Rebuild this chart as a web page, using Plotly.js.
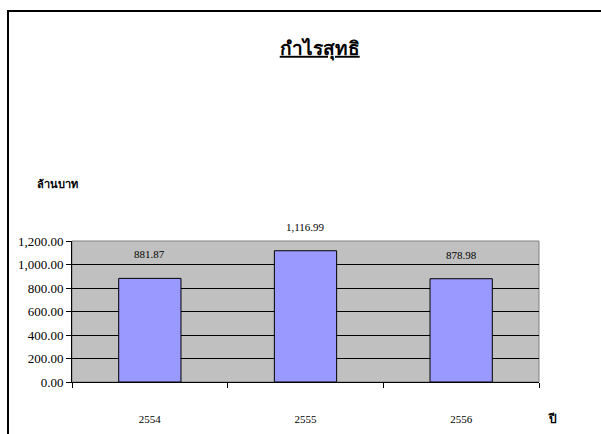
<!DOCTYPE html>
<html>
<head>
<meta charset="utf-8">
<script src="https://cdn.plot.ly/plotly-3.0.1.min.js"></script>
<style>
  html, body { margin: 0; padding: 0; background: #fff; }
  #wrap { position: relative; width: 601px; height: 434px; overflow: hidden; }
  #frame { position: absolute; left: 7px; top: 10px; width: 700px; height: 500px;
           border-left: 2px solid #000; border-top: 2px solid #000; pointer-events: none; }
  #chart { position: absolute; left: 0; top: 0; width: 601px; height: 434px; }
</style>
</head>
<body>
<div id="wrap">
  <div id="chart"></div>
  <div id="frame"></div>
</div>
<script>
const chartTitle = 'กำไรสุทธิ';
const yAxisLabel = 'ล้านบาท';
const xAxisLabel = 'ปี';
const years = ['2554', '2555', '2556'];
const profit = [881.87, 1116.99, 878.98];
const valueLabels = ['881.87', '1,116.99', '878.98'];
const yTicks = [0, 200, 400, 600, 800, 1000, 1200];

const serif = 'Liberation Serif, Times New Roman, serif';

const trace = {
  type: 'bar',
  x: years,
  y: profit,
  marker: { color: '#9999FF', line: { color: '#000000', width: 1 } },
  hoverinfo: 'none'
};

// category axis: annotation x uses the category's serial index
const valueAnnotations = years.map((yr, i) => ({
  x: i, y: profit[i], xref: 'x', yref: 'y',
  text: valueLabels[i], showarrow: false,
  yanchor: 'middle', yshift: 24,
  font: { family: serif, size: 11, color: '#000' }
}));

const layout = {
  width: 601, height: 434,
  margin: { l: 72, r: 62, t: 241, b: 52 },
  paper_bgcolor: 'rgba(0,0,0,0)',
  plot_bgcolor: '#C0C0C0',
  showlegend: false,
  bargap: 0.6,
  title: {
    text: '<b>' + chartTitle + '</b>',
    x: 0.532, xref: 'container', xanchor: 'center',
    y: 0.889, yref: 'container', yanchor: 'middle',
    font: { family: serif, size: 19, color: '#000', lineposition: 'under' }
  },
  xaxis: {
    type: 'category',
    categoryorder: 'array', categoryarray: years,
    range: [-0.5, years.length - 0.5],
    tickson: 'boundaries',
    ticks: 'outside', ticklen: 5, tickcolor: '#000', tickwidth: 1,
    showline: true, linecolor: '#000', linewidth: 1,
    showgrid: false, zeroline: false,
    ticklabelstandoff: 27,
    tickangle: 0,
    tickfont: { family: serif, size: 11, color: '#000' },
    fixedrange: true
  },
  yaxis: {
    range: [0, 1200],
    tickvals: yTicks,
    tickformat: ',.2f',
    ticks: 'outside', ticklen: 5, tickcolor: '#000', tickwidth: 1,
    showline: true, linecolor: '#000', linewidth: 1,
    showgrid: true, gridcolor: '#000', gridwidth: 1,
    zeroline: false,
    tickfont: { family: serif, size: 13, color: '#000' },
    fixedrange: true
  },
  shapes: [{
    type: 'rect', xref: 'paper', yref: 'paper', x0: 0, x1: 1, y0: 0, y1: 1,
    line: { color: '#808080', width: 1 }, fillcolor: 'rgba(0,0,0,0)', layer: 'below'
  }],
  annotations: valueAnnotations.concat([
    {
      text: '<b>' + yAxisLabel + '</b>', xref: 'paper', yref: 'paper',
      x: -0.03, y: 1.405, xanchor: 'center', yanchor: 'middle', showarrow: false,
      font: { family: serif, size: 11, color: '#000' }
    },
    {
      text: '<b>' + xAxisLabel + '</b>', xref: 'paper', yref: 'paper',
      x: 1.028, y: -0.26, xanchor: 'center', yanchor: 'middle', showarrow: false,
      font: { family: serif, size: 12, color: '#000' }
    }
  ])
};

Plotly.newPlot('chart', [trace], layout, { displayModeBar: false, staticPlot: true });
</script>
</body>
</html>
